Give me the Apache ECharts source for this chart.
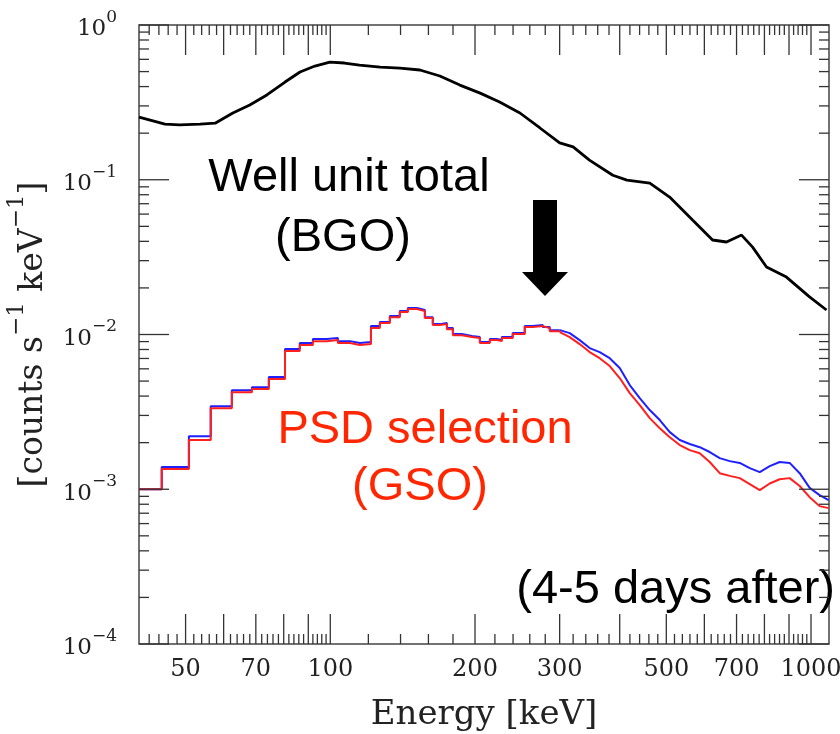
<!DOCTYPE html>
<html>
<head>
<meta charset="utf-8">
<script src="https://cdn.jsdelivr.net/npm/echarts@6/dist/echarts.min.js"></script>
<style>
html, body { margin: 0; background: #fff; }
#chart { width: 840px; height: 734px; }
</style>
</head>
<body>
<div id="chart"></div>
<script>
// BGO well unit total spectrum (black)
const bgoEnergy = [40, 42.2, 45.3, 48.6, 53.6, 57.6, 62.7, 68.0, 73.8, 80.5, 86.5, 92.9, 99.8, 107, 115, 127, 139.6, 153.6, 169, 186,
  205, 225, 248, 273, 300, 320, 346, 387, 414, 462, 508, 567, 624, 667, 717, 756, 808, 889, 993, 1077];
const bgoRate = [0.254, 0.243, 0.229, 0.226, 0.229, 0.232, 0.270, 0.304, 0.353, 0.428, 0.497, 0.543, 0.576, 0.568, 0.551, 0.535, 0.527, 0.512, 0.468, 0.409,
  0.363, 0.318, 0.270, 0.216, 0.173, 0.163, 0.134, 0.107, 0.0995, 0.0952, 0.0773, 0.0549, 0.0408, 0.0396, 0.0439, 0.0367, 0.0273, 0.0235, 0.0175, 0.0144];

// GSO histograms, left bin edges (keV); coarse bins below 300 keV
const gsoEdges = [40, 44.6, 50.8, 56.4, 62.4, 68.7, 74.5, 80.5, 86.4, 92.0,
  98.4, 103.7, 109.9, 115.2, 121.5, 126.8, 133.0, 139.5, 145.0, 151.4,
  157.3, 163.4, 169.0, 174.8, 179.9, 187.8, 197.0, 204.7, 214.7, 222.0,
  227.4, 239.6, 253.8, 263.7, 276.7, 286.1, 300.2, 314.8, 330.2, 346.4,
  363.4, 381.3, 400, 419.7, 440.3, 461.9, 484.6, 508.4, 533.2, 559.4,
  586.8, 615.6, 645.8, 677.5, 710.8, 745.7, 782.3, 820.7, 860.5, 902.8,
  947.1, 993.6, 1042, 1088];
const gsoBlue = [0.00100, 0.00139, 0.00220, 0.00344, 0.00437, 0.00457, 0.00531, 0.00805, 0.00880, 0.00934,
  0.00948, 0.00906, 0.00880, 0.00893, 0.01133, 0.01203, 0.01315, 0.01417, 0.01482, 0.01439,
  0.01295, 0.01167, 0.01186, 0.01100, 0.01006, 0.00977, 0.00962, 0.00893, 0.00934, 0.00920,
  0.00962, 0.01021, 0.01133, 0.01150, 0.01116, 0.01067, 0.01067, 0.01021, 0.00920, 0.00817,
  0.00770, 0.00703, 0.00607, 0.00471, 0.00388, 0.00325, 0.00280, 0.00234, 0.00208, 0.00196,
  0.00187, 0.00174, 0.00159, 0.00152, 0.00148, 0.00137, 0.00129, 0.00141, 0.00150, 0.00148,
  0.00127, 0.00102, 0.000916, 0.000851];
const gsoRed = [0.00100, 0.00135, 0.00208, 0.00334, 0.00424, 0.00444, 0.00515, 0.00781, 0.00855, 0.00905,
  0.00920, 0.00880, 0.00855, 0.00867, 0.01100, 0.01186, 0.01295, 0.01396, 0.01459, 0.01417,
  0.01276, 0.01150, 0.01167, 0.01083, 0.00990, 0.00962, 0.00948, 0.00880, 0.00920, 0.00906,
  0.00948, 0.01006, 0.01116, 0.01133, 0.01100, 0.01050, 0.01037, 0.00962, 0.00867, 0.00770,
  0.00703, 0.00625, 0.00523, 0.00418, 0.00350, 0.00288, 0.00248, 0.00217, 0.00193, 0.00179,
  0.00171, 0.00150, 0.00127, 0.00122, 0.00118, 0.00108, 0.000986, 0.00109, 0.00116, 0.00118,
  0.00105, 0.000889, 0.000778, 0.000755];
const FINE_FROM = 36; // index of 300 keV, above it the bins are fine

// axis ticks
const xMajorTicks = [50, 60, 70, 80, 90, 100, 200, 300, 400, 500, 600, 700, 800, 900, 1000];
const xTickLabels = [50, 70, 100, 200, 300, 500, 700, 1000];
const xMinorTicks = [];
for (let v = 42; v < 100; v += 2) if (v % 10) xMinorTicks.push(v);
for (let v = 120; v < 1000; v += 20) if (v % 100) xMinorTicks.push(v);
const yMajorTicks = [1e-4, 1e-3, 1e-2, 1e-1, 1];
const yMinorTicks = [];
for (let e = -4; e < 0; e++) for (let k = 2; k <= 9; k++) yMinorTicks.push(k * Math.pow(10, e));

const X_MIN = 40, X_MAX = 1090, Y_MIN = 1e-4, Y_MAX = 1;
const serif = '"DejaVu Serif", serif';
const sans = '"Liberation Sans", Arial, sans-serif';
const tickColor = '#333';

const pairs = (xs, ys) => xs.map((x, i) => [x, ys[i]]);
const tickLine = (x1, y1, x2, y2) => ({
  type: 'line', shape: { x1, y1, x2, y2 }, style: { stroke: tickColor, lineWidth: 1.3 }
});
const gsoSeries = (name, ys, color, z) => [
  { name, type: 'line', step: 'end', data: pairs(gsoEdges, ys).slice(0, FINE_FROM + 1), showSymbol: false,
    lineStyle: { color, width: 2 }, z },
  { name, type: 'line', data: pairs(gsoEdges, ys).slice(FINE_FROM), showSymbol: false,
    lineStyle: { color, width: 2 }, z }
];

const chart = echarts.init(document.getElementById('chart'));

chart.setOption({
  animation: false,
  grid: { left: 139, right: 11, top: 25, bottom: 90, show: true, borderColor: '#444', borderWidth: 1.5,
    containLabel: false, outerBoundsMode: 'none' },
  xAxis: {
    type: 'log', logBase: 10, min: X_MIN, max: X_MAX,
    axisLine: { show: false }, axisTick: { show: false }, axisLabel: { show: false }, splitLine: { show: false },
    name: 'Energy [keV]', nameLocation: 'middle', nameGap: 54,
    nameTextStyle: { fontFamily: serif, fontSize: 34, color: '#222' }
  },
  yAxis: {
    type: 'log', logBase: 10, min: Y_MIN, max: Y_MAX,
    axisLine: { show: false }, axisTick: { show: false }, splitLine: { show: false },
    axisLabel: {
      margin: 22,
      formatter: v => '{b|10}{s|' + String(Math.round(Math.log10(v))).replace('-', '\u2212') + '}',
      rich: {
        b: { fontFamily: serif, fontSize: 23, lineHeight: 32, verticalAlign: 'bottom', color: '#222' },
        s: { fontFamily: serif, fontSize: 17, lineHeight: 17, verticalAlign: 'top', color: '#222' }
      }
    },
    name: '{t|[counts s}{s|\u22121}{t| keV}{s|\u22121}{t|]}',
    nameLocation: 'middle', nameRotate: 90, nameGap: 89,
    nameTextStyle: {
      rich: {
        t: { fontFamily: serif, fontSize: 33, lineHeight: 44, verticalAlign: 'bottom', color: '#222' },
        s: { fontFamily: serif, fontSize: 23, lineHeight: 23, verticalAlign: 'top', color: '#222' }
      }
    }
  },
  series: [
    {
      name: 'BGO', type: 'line', data: pairs(bgoEnergy, bgoRate), showSymbol: false,
      lineStyle: { color: '#000', width: 2.8 }, z: 3
    },
    ...gsoSeries('GSO all', gsoBlue, '#1f1fff', 3),
    ...gsoSeries('GSO PSD', gsoRed, '#ff1f1f', 4),
    {
      type: 'custom', silent: true, clip: false, z: 5, encode: { x: 0, y: 1 },
      data: xMajorTicks.map(v => [v, Y_MIN, 1]).concat(xMinorTicks.map(v => [v, Y_MIN, 0])),
      renderItem(params, api) {
        const v = api.value(0), len = api.value(2) ? 30 : 10;
        const b = api.coord([v, Y_MIN]), t = api.coord([v, Y_MAX]);
        return { type: 'group', children: [
          tickLine(b[0], b[1], b[0], b[1] - len), tickLine(t[0], t[1], t[0], t[1] + len)
        ] };
      }
    },
    {
      type: 'custom', silent: true, clip: false, z: 5, encode: { x: 0, y: 1 },
      data: yMajorTicks.map(v => [X_MIN, v, 1]).concat(yMinorTicks.map(v => [X_MIN, v, 0])),
      renderItem(params, api) {
        const v = api.value(1), len = api.value(2) ? 30 : 10;
        const l = api.coord([X_MIN, v]), r = api.coord([X_MAX, v]);
        return { type: 'group', children: [
          tickLine(l[0], l[1], l[0] + len, l[1]), tickLine(r[0], r[1], r[0] - len, r[1])
        ] };
      }
    },
    {
      type: 'custom', silent: true, clip: false, z: 5, encode: { x: 0, y: 1 },
      data: xTickLabels.map(v => [v, Y_MIN]),
      renderItem(params, api) {
        const v = api.value(0);
        const p = api.coord([v, Y_MIN]);
        return { type: 'text', x: p[0], y: p[1] + 26, style: {
          text: String(v), fill: '#222', textFill: '#222', font: '24px ' + serif,
          align: 'center', verticalAlign: 'middle', textAlign: 'center', textVerticalAlign: 'middle'
        } };
      }
    }
  ],
  graphic: [
    { type: 'text', x: 349, y: 178, style: { text: 'Well unit total', font: '47px ' + sans, fill: '#000',
      textAlign: 'center', textVerticalAlign: 'middle', align: 'center', verticalAlign: 'middle' } },
    { type: 'text', x: 343, y: 238, style: { text: '(BGO)', font: '47px ' + sans, fill: '#000',
      textAlign: 'center', textVerticalAlign: 'middle', align: 'center', verticalAlign: 'middle' } },
    { type: 'text', x: 425, y: 430, style: { text: 'PSD selection', font: '47px ' + sans, fill: '#ff2600',
      textAlign: 'center', textVerticalAlign: 'middle', align: 'center', verticalAlign: 'middle' } },
    { type: 'text', x: 420, y: 487, style: { text: '(GSO)', font: '47px ' + sans, fill: '#ff2600',
      textAlign: 'center', textVerticalAlign: 'middle', align: 'center', verticalAlign: 'middle' } },
    { type: 'text', x: 835, y: 590, style: { text: '(4-5 days after)', font: '47px ' + sans, fill: '#000',
      textAlign: 'right', textVerticalAlign: 'middle', align: 'right', verticalAlign: 'middle' } },
    { type: 'polygon', shape: { points: [[533, 200], [557, 200], [557, 272], [568, 272], [545, 296], [522, 272], [533, 272]] },
      style: { fill: '#000' } }
  ]
});
</script>
</body>
</html>
